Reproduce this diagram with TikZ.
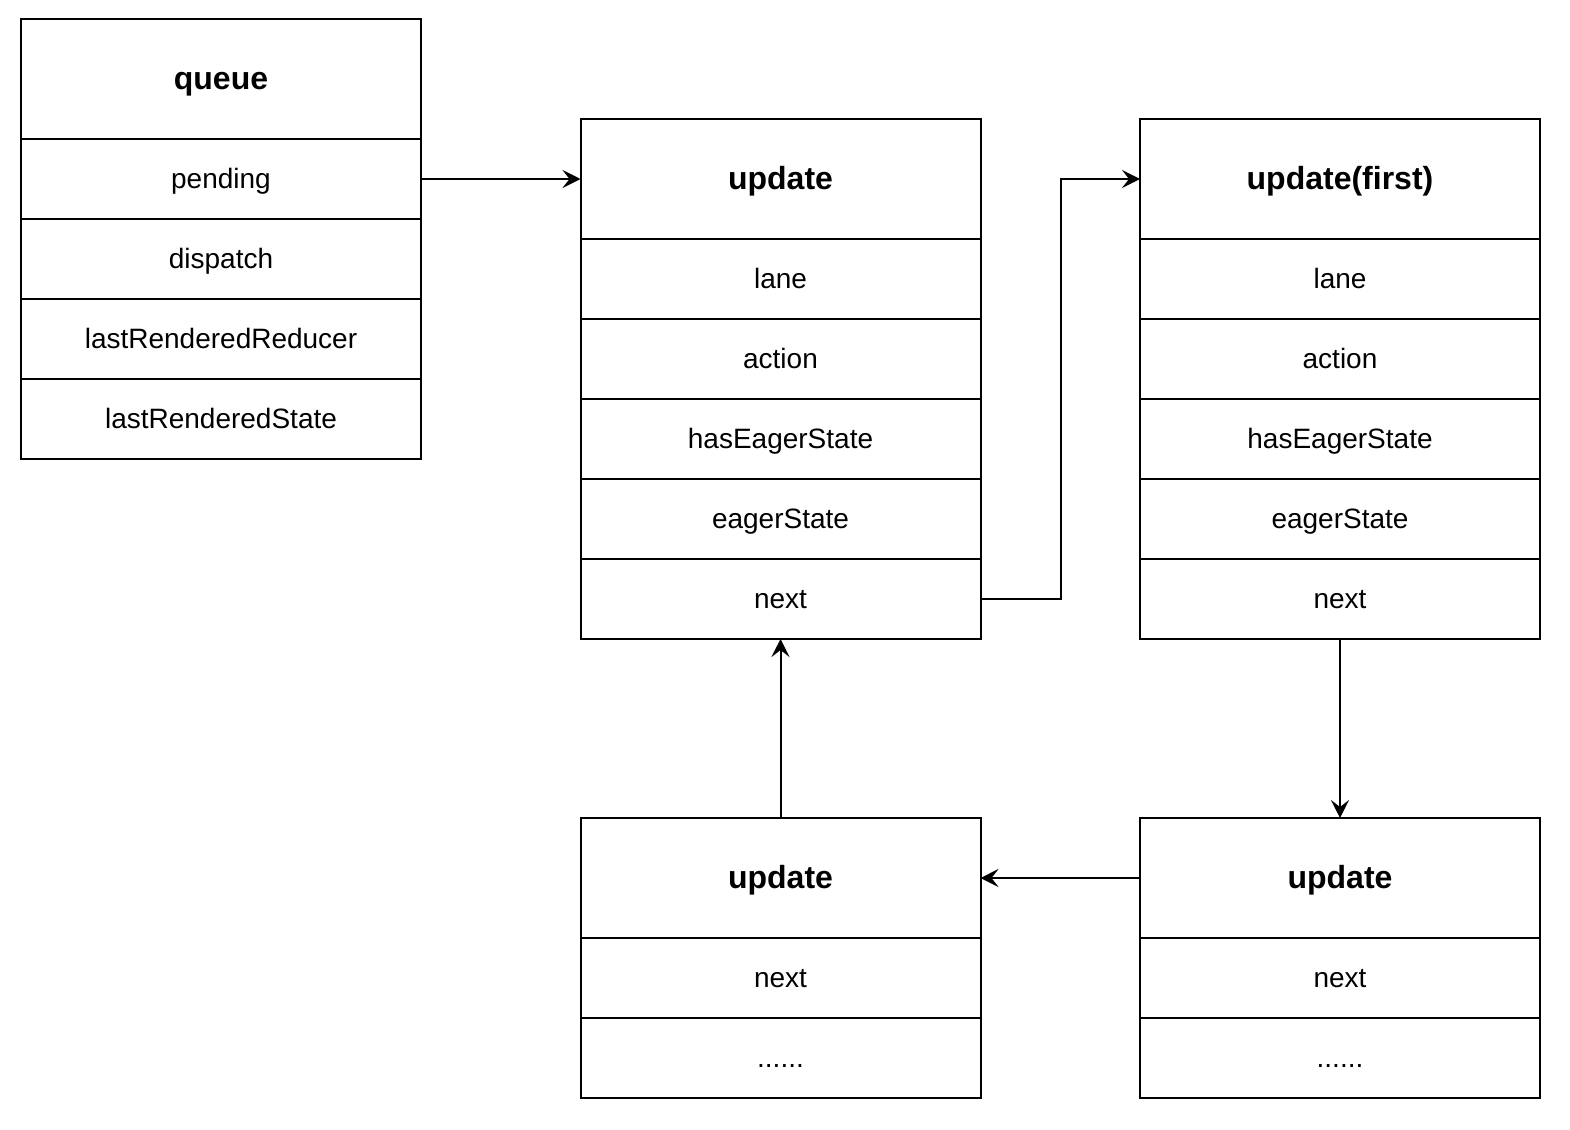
\documentclass[tikz,border=0pt]{standalone}
\usepackage{fontspec}
\setmainfont{Liberation Sans}
\usetikzlibrary{arrows.meta}
\begin{document}
\begin{tikzpicture}[x=0.5pt,y=-0.5pt,
  cell/.style={draw, line width=1pt, rectangle, minimum width=200pt, minimum height=40pt,
    inner sep=0pt, outer sep=0pt, anchor=north west, text height=12.5pt, text depth=3pt,
    font=\fontsize{14}{16}\selectfont},
  head/.style={cell, minimum height=60pt, text height=14pt, text depth=3.5pt,
    font=\fontsize{16}{19}\selectfont\bfseries},
  link/.style={draw, line width=1pt, -{Stealth[length=9pt,width=9pt,inset=3.5pt]}}]
\useasboundingbox (0,0) rectangle (1570,1130);

% queue record
\node[head] (q)  at (21,19)  {queue};
\node[cell] (qa) at (21,139) {pending};
\node[cell] (qb) at (21,219) {dispatch};
\node[cell] (qc) at (21,299) {lastRenderedReducer};
\node[cell] (qd) at (21,379) {lastRenderedState};

% update record
\node[head] (ua)  at (580.5,119) {update};
\node[cell] (ua1) at (580.5,239) {lane};
\node[cell] (ua2) at (580.5,319) {action};
\node[cell] (ua3) at (580.5,399) {hasEagerState};
\node[cell] (ua4) at (580.5,479) {eagerState};
\node[cell] (ua5) at (580.5,559) {next};

% first update record
\node[head] (ub)  at (1140,119) {update(first)};
\node[cell] (ub1) at (1140,239) {lane};
\node[cell] (ub2) at (1140,319) {action};
\node[cell] (ub3) at (1140,399) {hasEagerState};
\node[cell] (ub4) at (1140,479) {eagerState};
\node[cell] (ub5) at (1140,559) {next};

% lower right update
\node[head] (uc)  at (1140,818)  {update};
\node[cell] (uc1) at (1140,938)  {next};
\node[cell] (uc2) at (1140,1018) {......};

% lower left update
\node[head] (ud)  at (580.5,818)  {update};
\node[cell] (ud1) at (580.5,938)  {next};
\node[cell] (ud2) at (580.5,1018) {......};

% links
\draw[link] (qa.east) -- (ua.west);
\draw[link] (ua5.east) -- ++(80,0) |- (ub.west);
\draw[link] (ub5.south) -- (uc.north);
\draw[link] (uc.west) -- (ud.east);
\draw[link] (ud.north) -- (ua5.south);
\end{tikzpicture}
\end{document}
